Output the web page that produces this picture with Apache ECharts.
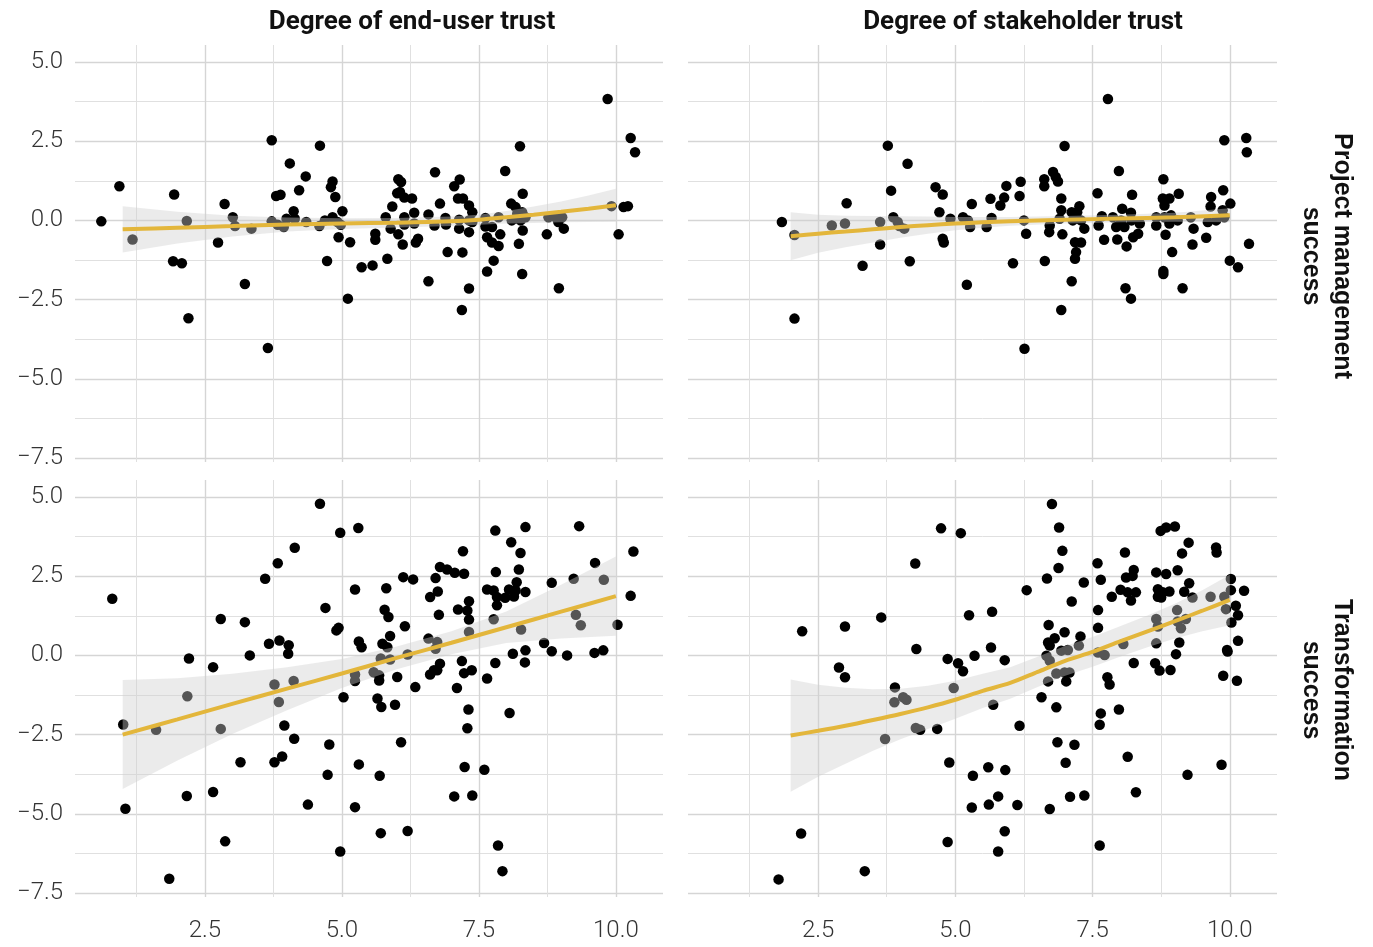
<!DOCTYPE html>
<html>
<head>
<meta charset="utf-8">
<title>Trust and success</title>
<script src="https://cdn.jsdelivr.net/npm/echarts@6/dist/echarts.min.js"></script>
<style>
  html, body { margin: 0; padding: 0; background: #fff; }
  #chart { width: 1373px; height: 947px; }
</style>
</head>
<body>
<div id="chart"></div>
<script>
  // facet labels
  const colTitles = ['Degree of end-user trust', 'Degree of stakeholder trust'];
  const rowTitles = ['Project management\nsuccess', 'Transformation\nsuccess'];

  // tick values
  const xMajor = [2.5, 5.0, 7.5, 10.0];
  const xMinor = [1.25, 3.75, 6.25, 8.75];
  const yMajor = [-7.5, -5.0, -2.5, 0.0, 2.5, 5.0];
  const yMinor = [-6.25, -3.75, -1.25, 1.25, 3.75];

  // points: [trust, success]
  const pmEndUser = [
    [0.61,-0.03],[0.94,1.08],[1.18,-0.6],[1.94,0.82],[2.17,-0.02],[1.92,-1.29],[2.08,-1.35],[2.2,-3.09],
    [2.86,0.52],[3.01,0.1],[3.05,-0.18],[2.74,-0.7],[3.35,-0.26],[3.23,-2.01],[3.72,2.53],[3.65,-4.03],
    [3.8,0.77],[3.88,0.81],[3.72,-0.03],[3.83,-0.14],[3.94,-0.21],[3.99,0.05],[4.05,1.8],[4.12,0.29],
    [4.14,0.05],[4.22,0.95],[4.34,1.39],[4.35,-0.05],[4.6,2.36],[4.59,-0.18],[4.69,0],[4.83,1.23],
    [4.8,1.05],[4.88,0.74],[4.83,0.1],[4.92,-0.05],[4.98,-0.14],[5.01,0.29],[4.94,-0.53],[5.15,-0.69],
    [4.73,-1.28],[5.11,-2.47],[5.36,-1.48],[5.56,-1.42],[5.61,-0.42],[5.61,-0.61],[5.83,-1.21],[5.8,0.1],
    [5.92,0.44],[5.89,-0.26],[6.03,1.3],[6.08,1.21],[6.01,0.86],[6.06,0.9],[6.14,0.72],[6.28,0.69],
    [6.03,-0.44],[6.11,-0.76],[6.14,0.1],[6.14,-0.13],[6.32,0.24],[6.32,-0.1],[6.35,-0.7],[6.39,-0.58],
    [6.58,-1.92],[6.7,1.52],[6.58,0.19],[6.69,-0.16],[6.89,0.08],[6.9,-0.13],[6.79,0.53],[6.93,-1.0],
    [7.05,1.08],[7.15,1.29],[7.12,0.69],[7.21,0.69],[7.32,0.47],[7.14,0.02],[7.14,-0.26],[7.32,0],
    [7.32,-0.37],[7.38,0.26],[7.38,-0.05],[7.2,-1.01],[7.32,-2.15],[7.19,-2.83],[7.62,0.08],[7.62,-0.19],
    [7.74,-0.21],[7.86,0.1],[7.65,-0.53],[7.74,-0.7],[7.86,-0.81],[7.89,-0.44],[7.77,-1.27],[7.65,-1.61],
    [7.98,1.56],[8.09,0.53],[8.17,0.42],[8.1,0],[8.2,0.21],[8.29,0.26],[8.35,0.1],[8.26,0],
    [8.3,0.84],[8.25,2.34],[8.3,-0.32],[8.23,-0.74],[8.29,-1.69],[8.74,-0.44],[8.77,0.1],[8.9,0.1],
    [9.02,0.1],[9.05,-0.26],[8.95,-0.05],[8.96,-2.14],[9.85,3.83],[9.92,0.45],[10.14,0.42],[10.22,0.45],
    [10.05,-0.44],[10.27,2.6],[10.35,2.15]
  ];
  const pmStakeholder = [
    [1.84,-0.05],[2.07,-0.46],[2.07,-3.1],[2.75,-0.16],[2.99,-0.1],[3.02,0.54],[3.31,-1.43],[3.63,-0.05],
    [3.63,-0.76],[3.77,2.36],[3.83,0.94],[3.87,0.1],[3.95,-0.05],[3.98,-0.18],[4.07,-0.26],[4.13,1.79],
    [4.17,-1.29],[4.64,1.05],[4.77,0.82],[4.71,0.26],[4.77,-0.58],[4.79,-0.7],[4.91,0.05],[5.14,0.1],
    [5.23,0],[5.27,-0.21],[5.3,0.52],[5.21,-2.03],[5.57,-0.21],[5.64,0.68],[5.66,0.08],[5.82,0.47],
    [5.89,0.72],[5.93,1.09],[6.05,-1.35],[6.19,1.22],[6.17,0.77],[6.25,0],[6.29,-0.42],[6.63,-1.28],
    [6.62,1.3],[6.62,1.08],[6.78,1.53],[6.83,1.37],[6.87,1.23],[6.71,-0.37],[6.72,-0.16],[6.9,0.05],
    [6.93,0.69],[6.93,0.32],[6.95,-0.44],[6.99,2.35],[7.12,0.26],[7.26,0.45],[7.22,0.26],[7.14,0],
    [7.29,0],[7.35,-0.26],[7.18,-0.69],[7.29,-0.7],[7.2,-1],[7.18,-1.21],[7.12,-1.92],[6.93,-2.83],
    [7.59,0.86],[7.61,-0.16],[7.67,0.13],[7.71,-0.61],[7.78,3.83],[7.87,0.1],[7.93,-0.21],[8.02,0],
    [8.08,-0.21],[8.04,0.37],[8.2,0.24],[7.95,-0.6],[8.12,-0.82],[7.98,1.56],[8.22,0.81],[8.24,-0.53],
    [8.33,-0.42],[8.21,0],[8.36,-0.1],[8.1,-2.14],[8.2,-2.47],[8.66,0.1],[8.66,-0.16],[8.81,0.1],
    [8.9,-0.1],[8.93,0.16],[9.05,0],[8.79,1.3],[8.78,0.69],[8.81,0.47],[8.9,0.69],[9.07,0.84],
    [8.83,-0.45],[8.95,-1],[8.79,-1.6],[8.79,-1.69],[9.14,-2.14],[9.29,0.1],[9.34,-0.26],[9.32,-0.76],
    [9.57,-0.55],[9.6,-0.05],[9.75,0],[9.87,0.32],[9.9,0.1],[9.65,0.44],[9.66,0.74],[9.88,0.95],
    [10.01,0.53],[9.9,2.53],[10.0,-1.27],[10.15,-1.48],[10.35,-0.74],[10.3,2.6],[10.31,2.15],[6.26,-4.05]
  ];
  const trEndUser = [
    [0.81,1.79],[1.01,-2.18],[1.05,-4.84],[1.61,-2.35],[1.85,-7.05],[2.18,-1.29],[2.21,-0.1],[2.17,-4.44],
    [2.65,-0.37],[2.65,-4.31],[2.79,1.15],[2.79,-2.32],[2.87,-5.87],[3.23,1.05],[3.32,0],[3.15,-3.37],
    [3.6,2.42],[3.67,0.37],[3.86,0.47],[4.03,0.32],[4.02,0.05],[3.83,2.91],[3.77,-0.92],[3.85,-1.47],
    [4.12,-0.81],[3.95,-2.21],[4.13,-2.63],[3.77,-3.37],[3.91,-3.19],[4.14,3.4],[4.38,-4.71],[4.6,4.79],
    [4.7,1.5],[4.9,0.79],[4.94,0.87],[4.77,-2.81],[4.74,-3.77],[4.97,3.87],[4.97,-6.19],[5.03,-1.32],
    [5.24,2.08],[5.3,4.02],[5.31,0.44],[5.36,0.26],[5.24,-0.6],[5.24,-0.81],[5.31,-3.44],[5.24,-4.79],
    [5.58,-0.53],[5.65,-1.36],[5.69,-3.8],[5.71,-5.61],[6.2,-5.54],[6.08,-2.74],[5.72,-1.63],[5.97,-1.56],
    [6.01,-0.68],[5.68,-0.79],[5.68,-0.63],[5.71,-0.1],[5.88,-0.13],[5.74,0.37],[5.83,0.26],[5.88,0.61],
    [5.78,1.44],[5.85,1.21],[5.81,2.12],[6.15,0.92],[6.2,0.03],[6.12,2.47],[6.3,2.4],[6.34,-1.0],
    [6.58,0.53],[6.74,0.42],[6.71,0.21],[6.61,-0.6],[6.68,-0.47],[6.79,-0.26],[6.74,-0.47],[6.61,1.84],
    [6.75,2.02],[6.77,1.28],[6.71,2.44],[6.79,2.79],[6.92,2.71],[7.06,2.61],[7.23,2.58],[7.21,3.29],
    [7.12,1.45],[7.29,1.42],[7.32,1.71],[7.32,1.13],[7.32,0.74],[7.19,-0.18],[7.23,-0.56],[7.37,-0.47],
    [7.1,-1.03],[7.31,-1.71],[7.29,-2.3],[7.24,-3.52],[7.6,-3.61],[7.05,-4.45],[7.38,-4.42],[7.85,-6.0],
    [7.93,-6.81],[7.65,-0.73],[7.8,-0.24],[7.77,1.14],[7.65,2.08],[7.77,2.05],[7.83,1.84],[7.98,1.82],
    [8.05,2.08],[8.14,1.86],[7.83,1.58],[8.17,2.05],[8.35,2.0],[8.19,2.31],[7.8,3.94],[7.81,2.63],
    [8.09,3.57],[8.26,3.23],[8.23,2.71],[8.35,4.05],[8.27,0.82],[8.12,0.05],[8.35,0.16],[8.34,-0.22],
    [8.06,-1.82],[8.83,2.29],[8.69,0.39],[8.83,0.13],[9.11,0],[9.33,4.08],[9.23,2.42],[9.27,1.28],
    [9.36,0.95],[9.62,2.92],[9.61,0.08],[9.77,0.16],[9.78,2.39],[10.03,0.97],[10.27,1.88],[10.32,3.28]
  ];
  const trStakeholder = [
    [1.78,-7.07],[2.21,0.76],[2.19,-5.62],[2.88,-0.38],[2.99,-0.69],[2.99,0.91],[3.35,-6.81],[3.65,1.2],
    [3.72,-2.64],[3.9,-1.01],[3.89,-1.48],[4.05,-1.32],[4.11,-1.4],[4.27,2.9],[4.29,0.2],[4.28,-2.29],
    [4.36,-2.35],[4.67,-2.32],[4.74,4.01],[4.86,-0.11],[4.97,-1.03],[5.05,-0.25],[5.14,-0.5],[4.89,-3.38],
    [4.86,-5.89],[5.1,3.86],[5.25,1.27],[5.35,-0.01],[5.32,-3.8],[5.3,-4.8],[5.6,-3.53],[5.61,-4.71],
    [5.67,1.38],[5.65,0.25],[5.69,-1.56],[5.78,-4.45],[5.78,-6.19],[5.9,-0.15],[5.91,-3.62],[5.9,-5.55],
    [6.13,-4.72],[6.17,-2.22],[6.3,2.06],[6.57,-1.32],[6.67,2.43],[6.7,0.96],[6.72,-4.85],[6.69,0.41],
    [6.81,0.54],[6.72,0.31],[6.99,0.73],[7.28,0.6],[6.66,-0.01],[6.72,-0.17],[6.93,0.15],[7.05,0.17],
    [7.25,0.31],[6.69,-0.82],[6.84,-0.57],[6.99,-0.54],[7.08,-0.54],[7.02,-0.82],[6.84,-1.64],[6.76,4.78],
    [6.89,4.04],[6.95,3.3],[6.88,2.76],[7.12,1.7],[7.34,2.3],[6.86,-2.74],[7.17,-2.82],[7.01,-3.39],
    [7.09,-4.46],[7.35,-4.42],[7.59,2.91],[7.65,2.39],[7.6,1.43],[7.6,0.87],[7.6,0.09],[7.72,0.01],
    [7.77,-0.69],[7.81,-0.92],[7.65,-1.83],[7.63,-2.19],[7.63,-6.0],[7.85,1.85],[8.09,3.25],[8.01,2.07],
    [8.14,1.99],[8.2,1.73],[8.29,1.99],[8.11,2.46],[8.25,2.7],[8.23,2.51],[8.06,0.36],[8.25,-0.24],
    [7.98,-1.71],[8.14,-3.2],[8.29,-4.32],[8.66,2.62],[8.84,2.57],[9.05,2.69],[8.69,2.09],[8.78,1.99],
    [8.9,2.02],[8.75,1.83],[8.69,1.85],[8.74,3.93],[8.84,4.04],[9.0,4.07],[9.25,3.56],[9.13,3.22],
    [9.26,2.28],[9.17,2.01],[9.32,1.83],[8.66,1.15],[8.69,0.91],[9.04,1.43],[9.05,1.07],[9.11,0.86],
    [9.2,1.15],[8.66,0.38],[9.08,0.41],[9.02,0.04],[8.64,-0.25],[8.72,-0.48],[8.92,-0.46],[9.23,-3.77],
    [9.75,3.41],[9.76,3.25],[9.65,1.85],[9.9,1.85],[9.93,1.46],[10.02,2.41],[10.02,2.06],[10.26,2.04],
    [10.11,1.57],[10.15,1.27],[10.03,1.04],[10.15,0.46],[9.95,0.17],[9.96,0.12],[9.88,-0.64],[10.13,-0.8],
    [9.85,-3.45]
  ];

  // smoother fits: x, fit, lower and upper band
  const pmEndUserFitX  = [1, 2, 3, 4, 5, 6, 7, 7.5, 8, 8.5, 9, 9.5, 10];
  const pmEndUserFit   = [-0.28, -0.23, -0.18, -0.13, -0.1, -0.07, -0.03, 0.02, 0.1, 0.18, 0.27, 0.37, 0.48];
  const pmEndUserLo    = [-1.01, -0.73, -0.51, -0.35, -0.27, -0.22, -0.18, -0.14, -0.1, -0.08, -0.06, -0.05, -0.04];
  const pmEndUserHi    = [0.45, 0.27, 0.15, 0.09, 0.07, 0.08, 0.12, 0.18, 0.3, 0.44, 0.6, 0.79, 1.0];

  const pmStakeFitX = [2, 2.5, 3, 3.5, 4, 4.5, 5, 5.5, 6, 7, 8, 9, 10];
  const pmStakeFit  = [-0.5, -0.42, -0.35, -0.28, -0.21, -0.15, -0.1, -0.06, -0.03, 0.02, 0.06, 0.1, 0.16];
  const pmStakeLo   = [-1.26, -1.02, -0.85, -0.7, -0.55, -0.42, -0.31, -0.23, -0.17, -0.1, -0.06, -0.04, -0.06];
  const pmStakeHi   = [0.26, 0.18, 0.15, 0.14, 0.13, 0.12, 0.11, 0.11, 0.11, 0.14, 0.18, 0.24, 0.38];

  const trEndUserFitX = [1, 2, 3, 4, 5, 6, 7, 8, 9, 10];
  const trEndUserFit  = [-2.5, -2.02, -1.53, -1.05, -0.57, -0.08, 0.4, 0.89, 1.38, 1.87];
  const trEndUserLo   = [-4.22, -3.32, -2.48, -1.73, -1.03, -0.44, 0.04, 0.39, 0.53, 0.62];
  const trEndUserHi   = [-0.78, -0.72, -0.58, -0.37, -0.11, 0.28, 0.76, 1.39, 2.23, 3.12];

  const trStakeFitX = [2, 2.5, 3, 3.5, 4, 4.5, 5, 5.5, 6, 6.5, 7, 7.5, 8, 8.5, 9, 9.5, 10];
  const trStakeFit  = [-2.53, -2.38, -2.22, -2.04, -1.85, -1.64, -1.4, -1.12, -0.87, -0.52, -0.17, 0.11, 0.44, 0.76, 1.08, 1.41, 1.75];
  const trStakeLo   = [-4.3, -3.83, -3.42, -3.01, -2.65, -2.32, -2.0, -1.66, -1.37, -1.0, -0.64, -0.36, -0.04, 0.26, 0.53, 0.76, 0.95];
  const trStakeHi   = [-0.76, -0.93, -1.02, -1.07, -1.05, -0.96, -0.8, -0.58, -0.37, -0.04, 0.3, 0.58, 0.92, 1.26, 1.63, 2.06, 2.55];

  const panels = [
    { points: pmEndUser, fx: pmEndUserFitX, fy: pmEndUserFit, lo: pmEndUserLo, hi: pmEndUserHi },
    { points: pmStakeholder, fx: pmStakeFitX, fy: pmStakeFit, lo: pmStakeLo, hi: pmStakeHi },
    { points: trEndUser, fx: trEndUserFitX, fy: trEndUserFit, lo: trEndUserLo, hi: trEndUserHi },
    { points: trStakeholder, fx: trStakeFitX, fy: trStakeFit, lo: trStakeLo, hi: trStakeHi }
  ];

  const grids = [
    { left: 75, top: 45, width: 588, height: 417 },
    { left: 688, top: 45, width: 589, height: 417 },
    { left: 75, top: 480, width: 588, height: 417 },
    { left: 688, top: 480, width: 589, height: 417 }
  ];

  const X_MIN = 0.13, X_MAX = 10.86;
  const Y_MIN = -7.626, Y_MAX = 5.537;
  const tickFont = { fontFamily: 'Roboto', fontWeight: 300, fontSize: 24, color: '#333' };
  const fmt = v => v.toFixed(1).replace('-', '\u2212');

  function axisPair(kind, gi, showLabel) {
    const isX = kind === 'x';
    const major = isX ? xMajor : yMajor;
    const minor = isX ? xMinor : yMinor;
    const base = {
      type: 'value', gridIndex: gi,
      min: isX ? X_MIN : Y_MIN, max: isX ? X_MAX : Y_MAX,
      axisLine: { show: false }
    };
    return [
      Object.assign({}, base, {
        axisTick: { show: false, customValues: major },
        axisLabel: Object.assign({ show: showLabel, customValues: major, formatter: fmt,
          margin: isX ? 22 : 12 }, tickFont),
        splitLine: { show: true, lineStyle: { color: '#d5d5d5', width: 1.4 } }
      }),
      Object.assign({}, base, {
        axisTick: { show: false, customValues: minor },
        axisLabel: { show: false, customValues: minor },
        splitLine: { show: true, lineStyle: { color: '#e0e0e0', width: 1 } }
      })
    ];
  }

  const xAxis = [], yAxis = [], series = [];
  panels.forEach((p, i) => {
    xAxis.push(...axisPair('x', i, i >= 2));
    yAxis.push(...axisPair('y', i, i % 2 === 0));
    const ax = { xAxisIndex: 2 * i, yAxisIndex: 2 * i };
    series.push(Object.assign({
      type: 'scatter', data: p.points, symbolSize: 10.5, z: 2, silent: true,
      itemStyle: { color: '#000', opacity: 1 }
    }, ax));
    series.push(Object.assign({
      type: 'custom', data: [0], z: 3, silent: true,
      renderItem: function (params, api) {
        const pts = [];
        for (let k = 0; k < p.fx.length; k++) pts.push(api.coord([p.fx[k], p.hi[k]]));
        for (let k = p.fx.length - 1; k >= 0; k--) pts.push(api.coord([p.fx[k], p.lo[k]]));
        return { type: 'polygon', shape: { points: pts }, style: { fill: 'rgba(207,207,207,0.41)' } };
      }
    }, ax));
    series.push(Object.assign({
      type: 'line', data: p.fx.map((x, k) => [x, p.fy[k]]), showSymbol: false, z: 4, silent: true,
      smooth: 0.3, lineStyle: { color: '#e3b63b', width: 4 }
    }, ax));
  });

  const titleFont = 'bold 26px Roboto';
  const rowFont = 'bold 25px "Liberation Sans"';
  const graphic = [
    { type: 'text', x: 412, y: 22, style: { text: colTitles[0], font: titleFont, fill: '#111', textAlign: 'center', textVerticalAlign: 'middle' } },
    { type: 'text', x: 1023, y: 22, style: { text: colTitles[1], font: titleFont, fill: '#111', textAlign: 'center', textVerticalAlign: 'middle' } },
    { type: 'text', x: 1326, y: 256, rotation: -Math.PI / 2, style: { text: rowTitles[0], font: rowFont, lineHeight: 31, fill: '#111', textAlign: 'center', textVerticalAlign: 'middle' } },
    { type: 'text', x: 1326, y: 690, rotation: -Math.PI / 2, style: { text: rowTitles[1], font: rowFont, lineHeight: 31, fill: '#111', textAlign: 'center', textVerticalAlign: 'middle' } }
  ];

  const chart = echarts.init(document.getElementById('chart'));
  chart.setOption({
    animation: false,
    backgroundColor: '#fff',
    grid: grids,
    xAxis: xAxis,
    yAxis: yAxis,
    series: series,
    graphic: graphic
  });
  window.addEventListener('resize', function () {
    chart.resize();
  });
</script>
</body>
</html>
